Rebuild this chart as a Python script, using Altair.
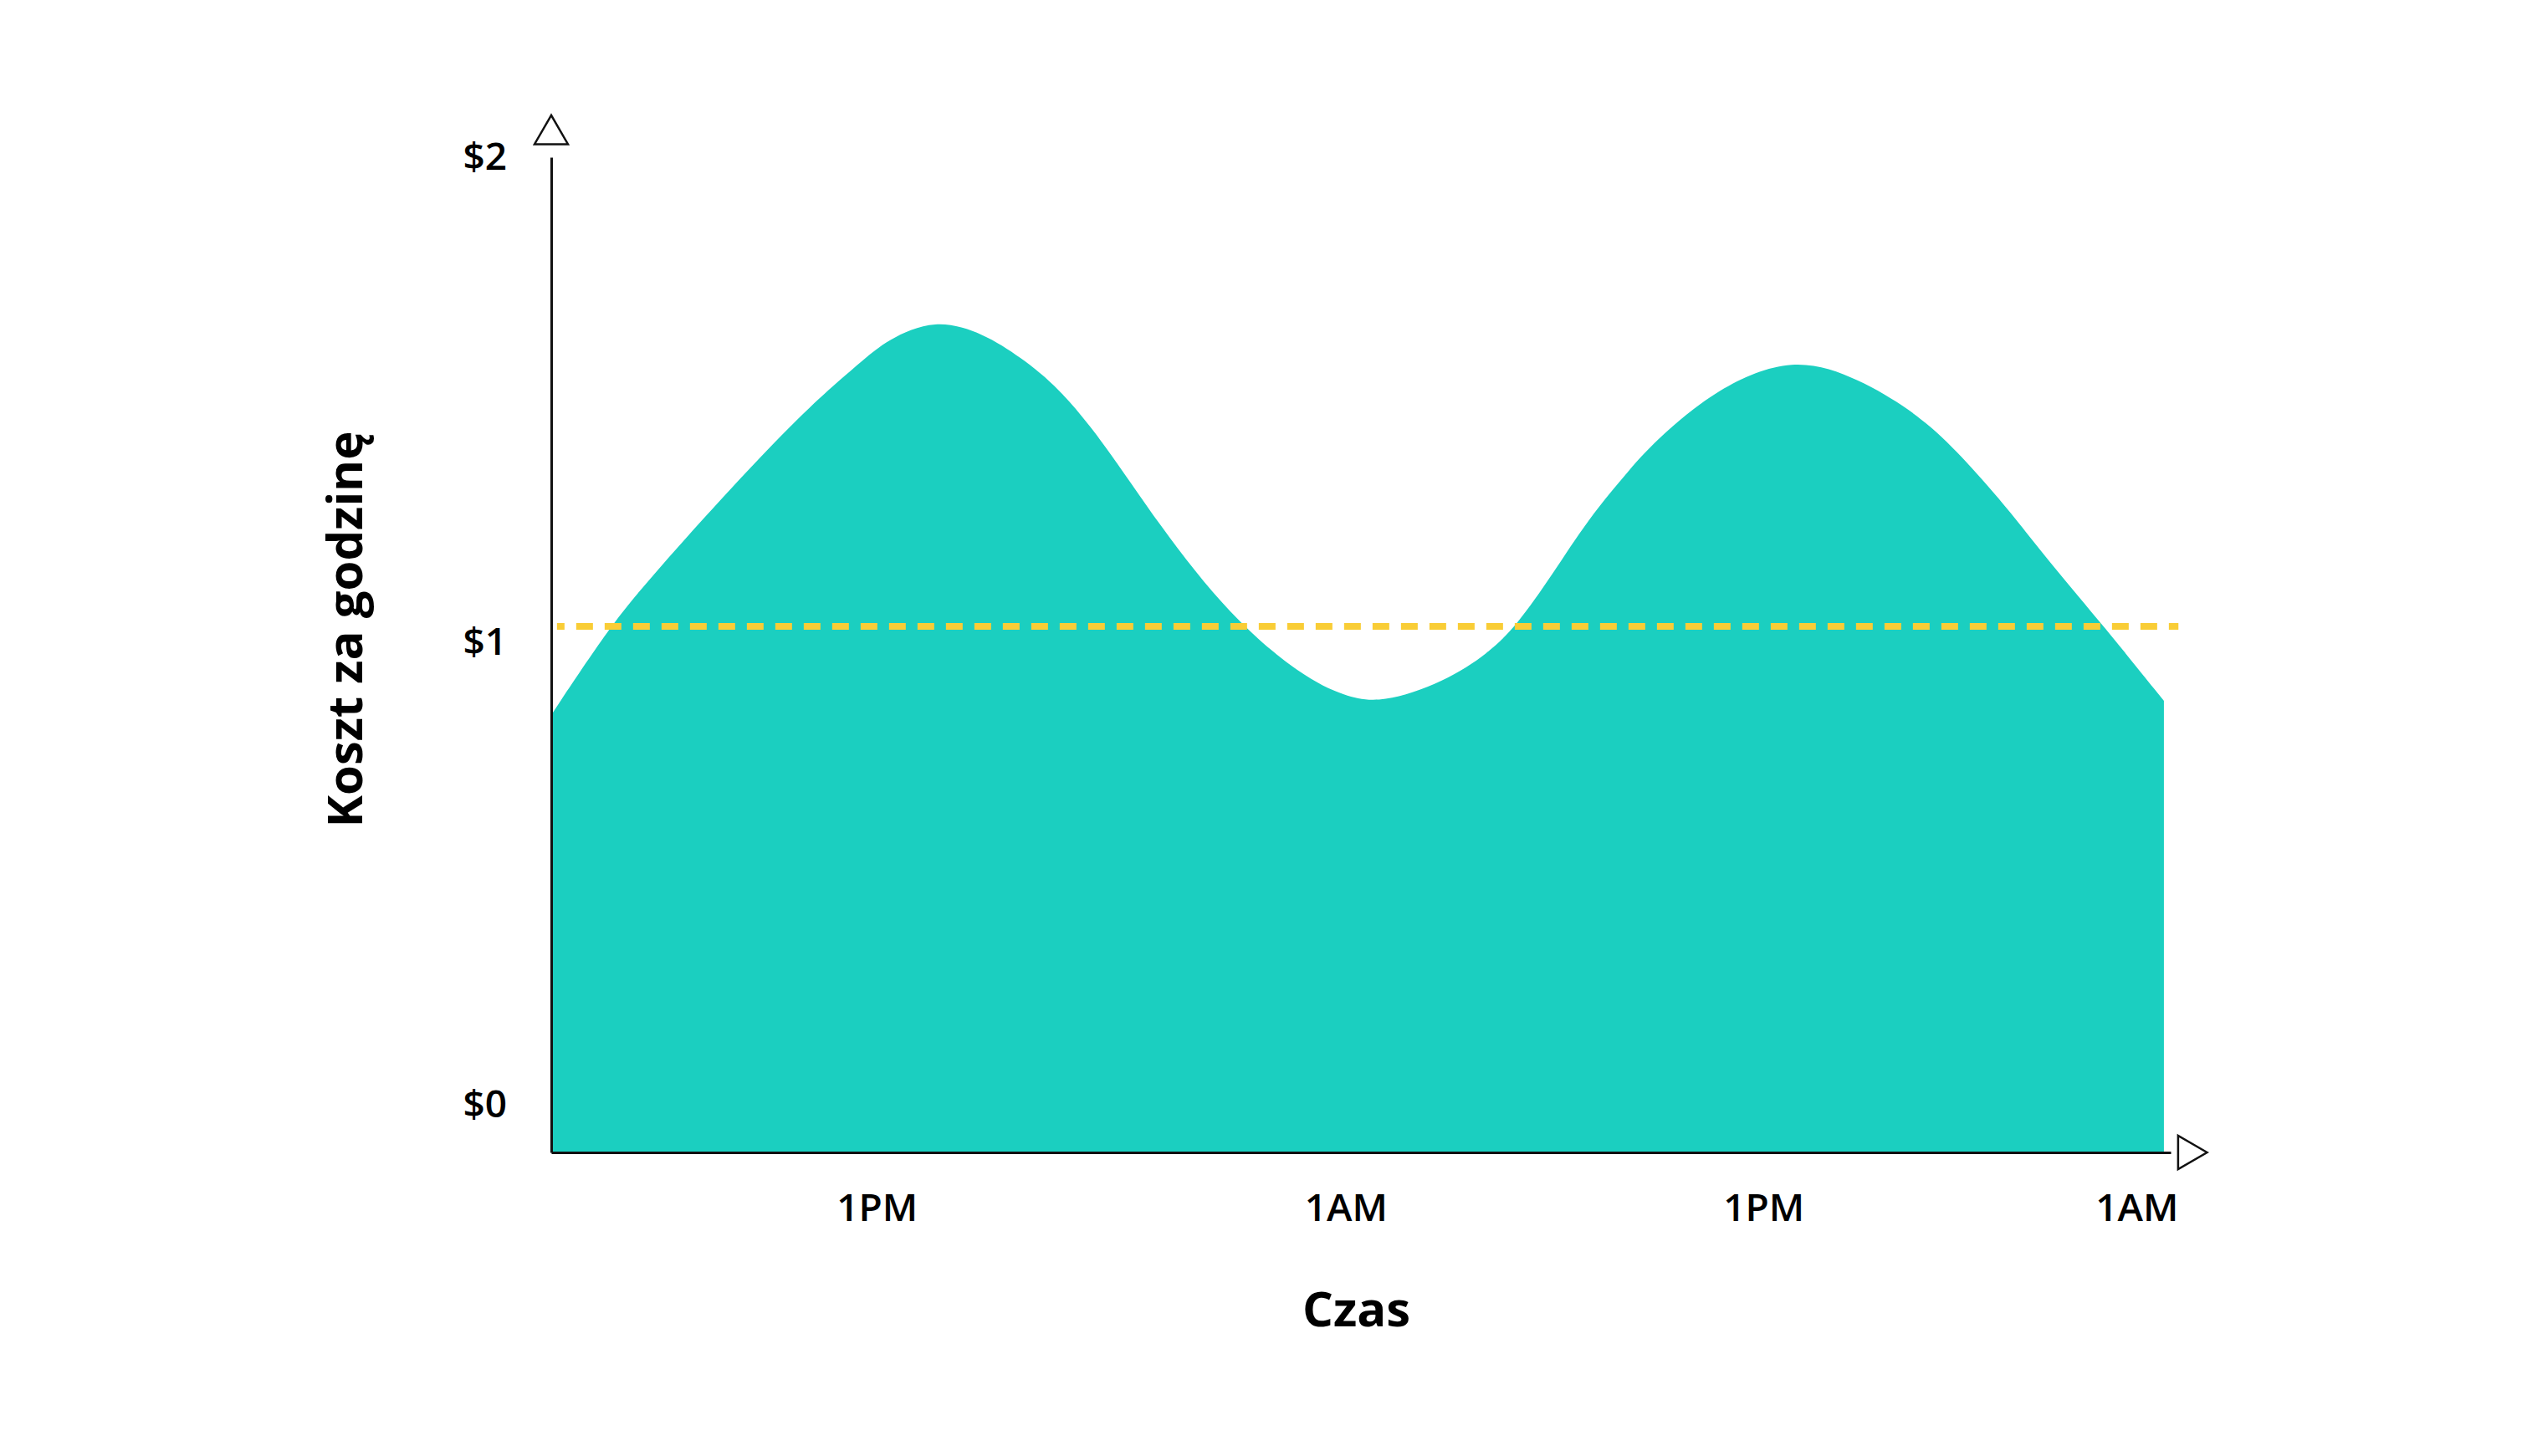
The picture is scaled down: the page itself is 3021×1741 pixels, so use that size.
import altair as alt
import pandas as pd

# ---- data ----
HOURS = [0.0, 1.74, 2.85, 5.06, 7.27, 8.38, 9.27, 9.94, 11.38, 12.82, 13.91, 15.03,
         16.36, 18.0, 20.13, 22.24, 23.53, 24.60, 26.48, 27.77, 28.62, 29.68, 30.72,
         32.0, 32.85, 34.54, 36.82, 38.78, 40.27, 41.33, 42.6, 43.44, 44.51, 46.0, 47.8]
COST = [0.823, 1.010, 1.105, 1.282, 1.447, 1.520, 1.573, 1.614, 1.660, 1.628, 1.578, 1.515,
        1.400, 1.225, 1.030, 0.905, 0.862, 0.847, 0.893, 0.953, 1.012, 1.120, 1.235,
        1.345, 1.410, 1.512, 1.582, 1.532, 1.468, 1.405, 1.306, 1.234, 1.137, 1.012, 0.853]

X_TICKS = [9.65, 23.55, 35.93, 46.99]
X_TICK_LABELS = ["1PM", "1AM", "1PM", "1AM"]
Y_TICKS = [0, 1, 2]

THRESHOLD = 1.01          # dashed yellow line
LINE_START, LINE_END = 0.17, 48.23

X_DOMAIN = [0, 48]
Y_DOMAIN = [-0.1, 2.0]
ARROW_UP = (0, 2.058)
ARROW_RIGHT = (48.65, -0.1)

TEAL = "#1BCFC0"
YELLOW = "#F9CD36"
INK = "#111111"
FONT = "Open Sans"

df = pd.DataFrame({"godzina": HOURS, "koszt": COST, "baza": [Y_DOMAIN[0]] * len(HOURS)})

x_scale = alt.Scale(domain=X_DOMAIN, nice=False, zero=False)
y_scale = alt.Scale(domain=Y_DOMAIN, nice=False, zero=False)

x_label_expr = ("[" + ",".join(f"'{l}'" for l in X_TICK_LABELS) + "][indexof(["
                + ",".join(str(v) for v in X_TICKS) + "], datum.value)]")

x_axis = alt.Axis(
    values=X_TICKS, labelExpr=x_label_expr, title="Czas",
    domainColor=INK, domainWidth=3, ticks=False, grid=False,
    labelFont=FONT, labelFontWeight=600, labelFontSize=46, labelColor="#000000",
    labelPadding=45, labelFlush=False, labelOverlap=False,
    titleFont=FONT, titleFontWeight="bold", titleFontSize=58, titleColor="#000000",
    titleX=962, titleAlign="center", titleY=207, titleBaseline="alphabetic", zindex=1,
)
y_axis = alt.Axis(
    values=Y_TICKS, labelExpr="'$' + datum.value", title="Koszt za godzinę",
    domainColor=INK, domainWidth=3, ticks=False, grid=False,
    labelFont=FONT, labelFontWeight=600, labelFontSize=46, labelColor="#000000",
    labelAlign="left", labelPadding=106, labelFlush=False, labelOverlap=False,
    labelOffset={"condition": {"test": "datum.value === 1", "value": 14}, "value": 0},
    titleFont=FONT, titleFontWeight="bold", titleFontSize=58, titleColor="#000000",
    titleX=-227, titleY=564, titleBaseline="alphabetic", zindex=1,
)

area = alt.Chart(df).mark_area(color=TEAL, interpolate="basis", opacity=1).encode(
    x=alt.X("godzina:Q", scale=x_scale, axis=x_axis),
    y=alt.Y("koszt:Q", scale=y_scale, axis=y_axis),
    y2="baza:Q",
)

one = pd.DataFrame({"a": [0]})

rule = alt.Chart(one).mark_rule(
    color=YELLOW, strokeWidth=8, strokeDash=[20, 14], strokeDashOffset=11
).encode(
    x=alt.datum(LINE_START), x2=alt.datum(LINE_END), y=alt.datum(THRESHOLD)
)

up = alt.Chart(one).mark_point(
    shape="triangle-up", filled=False, size=1600, color=INK, strokeWidth=2.5, opacity=1
).encode(x=alt.datum(ARROW_UP[0]), y=alt.datum(ARROW_UP[1]))

right = alt.Chart(one).mark_point(
    shape="triangle-right", filled=False, size=1600, color=INK, strokeWidth=2.5, opacity=1
).encode(x=alt.datum(ARROW_RIGHT[0]), y=alt.datum(ARROW_RIGHT[1]))

chart = alt.layer(area, rule, up, right).properties(
    width=1936, height=1190,
    padding={"left": 651, "top": 180, "right": 100, "bottom": 300},
    autosize=alt.AutoSizeParams(type="none"),
    background="white",
).configure_view(stroke=None)

chart.save("out.html", embed_options={"renderer": "svg", "actions": False})
